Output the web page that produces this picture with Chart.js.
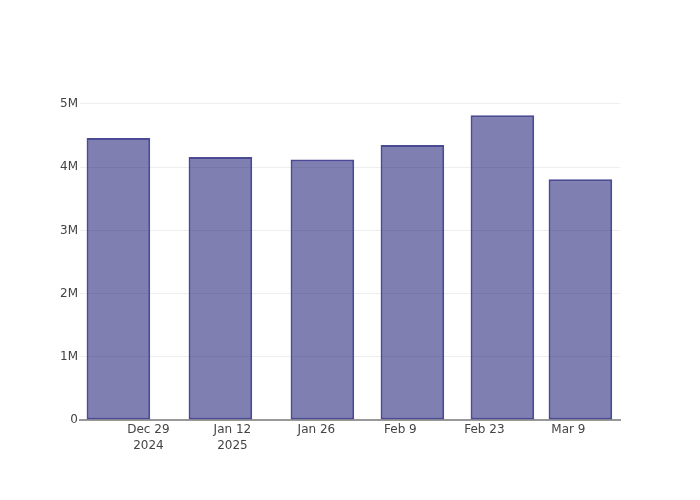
<!DOCTYPE html>
<html>
<head>
<meta charset="utf-8">
<script src="https://cdn.jsdelivr.net/npm/chart.js@4"></script>
<style>
  body { margin: 0; background: #fff; }
  canvas { display: block; }
</style>
</head>
<body>
<canvas id="barChart" width="700" height="500"></canvas>
<script>
// Bar dates and values
const barDates = ["2024-12-24", "2025-01-10", "2025-01-27", "2025-02-11", "2025-02-26", "2025-03-11"];
const barValues = [4460000, 4160000, 4120000, 4350000, 4820000, 3810000];

// Tick dates and labels along the time axis
const tickDates = ["2024-12-29", "2025-01-12", "2025-01-26", "2025-02-09", "2025-02-23", "2025-03-09"];
const tickLabels = [["Dec 29", "2024"], ["Jan 12", "2025"], "Jan 26", "Feb 9", "Feb 23", "Mar 9"];
const yTicks = [0, 1000000, 2000000, 3000000, 4000000, 5000000];
const yTickLabels = ["0", "1M", "2M", "3M", "4M", "5M"];

// days counted from the first tick
const origin = Date.parse(tickDates[0]);
const toDays = d => (Date.parse(d) - origin) / 86400000;

const barX = barDates.map(toDays);
const tickX = tickDates.map(toDays);

const font = { family: "'DejaVu Sans', sans-serif", size: 12 };

const ctx = document.getElementById("barChart").getContext("2d");
const barChart = new Chart(ctx, {
  type: "bar",
  data: {
    datasets: [{
      data: barX.map((x, i) => ({ x: x, y: barValues[i] })),
      backgroundColor: "rgba(0, 0, 100, 0.5)",
      borderColor: "#4a4a95",
      borderWidth: 2,
      borderSkipped: false,
      categoryPercentage: 0.816,
      barPercentage: 1
    }]
  },
  options: {
    responsive: false,
    animation: false,
    layout: { padding: { left: 0, right: 80, top: 100, bottom: 0 } },
    plugins: {
      legend: { display: false },
      tooltip: { enabled: false }
    },
    scales: {
      x: {
        type: "linear",
        offset: false,
        min: -11.4,
        max: 78.6,
        grid: { display: false, drawTicks: false, offset: false },
        border: { display: true, color: "#999", width: 2 },
        afterBuildTicks: scale => {
          scale.ticks = tickX.map(v => ({ value: v }));
        },
        afterFit: scale => { scale.height = 80; },
        ticks: {
          autoSkip: false,
          maxRotation: 0,
          padding: 2,
          color: "#444",
          font: { ...font, lineHeight: 1.3 },
          callback: (v, i) => tickLabels[i]
        }
      },
      y: {
        min: 0,
        max: 5063000,
        grid: { color: "#eee", drawTicks: false },
        border: { display: false },
        afterBuildTicks: scale => {
          scale.ticks = yTicks.map(v => ({ value: v }));
        },
        afterFit: scale => { scale.width = 80; },
        ticks: {
          padding: 2,
          color: "#444",
          font: font,
          callback: (v, i) => yTickLabels[i]
        }
      }
    }
  }
});
</script>
</body>
</html>
